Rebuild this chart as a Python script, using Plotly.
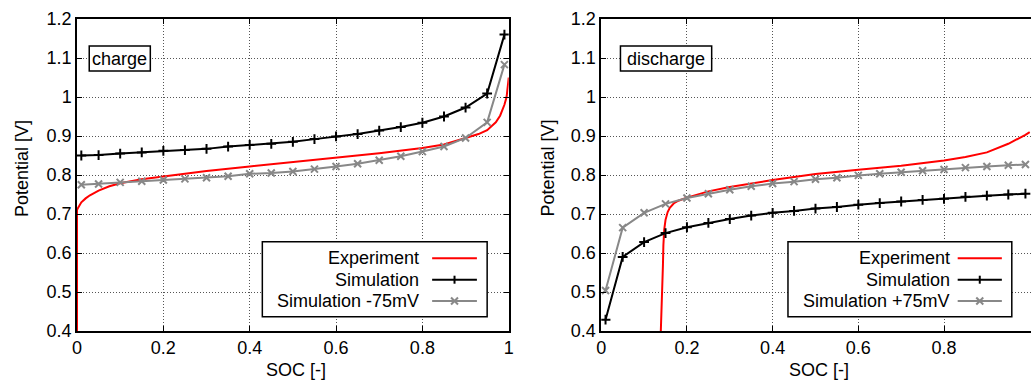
import plotly.graph_objects as go

# ---------------- data ----------------
soc_sim = [0.01, 0.05, 0.10, 0.15, 0.20, 0.25, 0.30, 0.35, 0.40, 0.45, 0.50,
           0.55, 0.60, 0.65, 0.70, 0.75, 0.80, 0.85, 0.90, 0.95, 0.99]

charge_sim = [0.850, 0.851, 0.855, 0.858, 0.862, 0.864, 0.867, 0.873, 0.877, 0.880, 0.885,
              0.892, 0.899, 0.905, 0.914, 0.923, 0.934, 0.950, 0.973, 1.009, 1.160]
charge_sim_shift = [0.775, 0.777, 0.781, 0.784, 0.787, 0.790, 0.793, 0.797, 0.803, 0.805, 0.809,
                    0.815, 0.822, 0.829, 0.838, 0.848, 0.860, 0.873, 0.895, 0.935, 1.083]

charge_exp_soc = [0.0, 0.0, 0.002, 0.005, 0.01, 0.02, 0.03, 0.05, 0.075, 0.10, 0.15, 0.20,
                  0.30, 0.40, 0.50, 0.60, 0.70, 0.80, 0.85, 0.90, 0.93, 0.95, 0.96, 0.97,
                  0.98, 0.99, 0.995, 1.0]
charge_exp_v = [0.40, 0.71, 0.715, 0.722, 0.730, 0.740, 0.748, 0.760, 0.771, 0.779, 0.789, 0.796,
                0.810, 0.822, 0.833, 0.844, 0.856, 0.869, 0.878, 0.895, 0.905, 0.915, 0.925, 0.935,
                0.952, 0.980, 1.000, 1.050]

discharge_sim = [0.429, 0.590, 0.628, 0.651, 0.666, 0.677, 0.687, 0.696, 0.703, 0.708, 0.714,
                 0.718, 0.724, 0.728, 0.732, 0.736, 0.739, 0.744, 0.747, 0.750, 0.752]
discharge_sim_shift = [0.504, 0.665, 0.703, 0.726, 0.741, 0.752, 0.762, 0.771, 0.778, 0.783, 0.789,
                       0.793, 0.799, 0.803, 0.807, 0.811, 0.814, 0.819, 0.822, 0.825, 0.827]

discharge_exp_soc = [0.139, 0.141, 0.1425, 0.144, 0.145, 0.147, 0.150, 0.155, 0.160, 0.170, 0.180,
                     0.20, 0.25, 0.30, 0.40, 0.50, 0.60, 0.70, 0.80, 0.85, 0.90, 0.95, 0.99, 1.0]
discharge_exp_v = [0.40, 0.45, 0.50, 0.57, 0.62, 0.66, 0.685, 0.705, 0.716, 0.728, 0.734,
                   0.742, 0.758, 0.769, 0.787, 0.8025, 0.8136, 0.824, 0.837, 0.846, 0.858, 0.880,
                   0.903, 0.910]

x_ticks = [0, 0.2, 0.4, 0.6, 0.8, 1.0]
y_ticks = [0.4, 0.5, 0.6, 0.7, 0.8, 0.9, 1.0, 1.1, 1.2]
names_charge = ["Experiment", "Simulation", "Simulation -75mV"]
names_discharge = ["Experiment", "Simulation", "Simulation +75mV"]

# ---------------- style ----------------
W, H = 1036, 382
ML, MR, MT, MB = 77, 0, 19, 51
PW, PH = W - ML - MR, H - MT - MB
FONT = "Liberation Sans"
FS = 18
RED, BLACK, GRAY = "#ff0000", "#000000", "#888888"


def px(xp):
    return (xp - ML) / PW


def py(yp):
    return (H - MB - yp) / PH


fig = go.Figure()

def add_set(xa, ya, exp_x, exp_y, sim, shift, names):
    fig.add_trace(go.Scatter(x=exp_x, y=exp_y, mode="lines", name=names[0],
                             line=dict(color=RED, width=2), xaxis=xa, yaxis=ya))
    fig.add_trace(go.Scatter(x=soc_sim, y=shift, mode="lines+markers", name=names[2],
                             line=dict(color=GRAY, width=2),
                             marker=dict(symbol="x-thin-open", size=7,
                                         line=dict(color=GRAY, width=2)),
                             xaxis=xa, yaxis=ya))
    fig.add_trace(go.Scatter(x=soc_sim, y=sim, mode="lines+markers", name=names[1],
                             line=dict(color=BLACK, width=2),
                             marker=dict(symbol="cross-thin-open", size=7,
                                         line=dict(color=BLACK, width=2)),
                             xaxis=xa, yaxis=ya))

add_set("x", "y", charge_exp_soc, charge_exp_v, charge_sim, charge_sim_shift, names_charge)
add_set("x2", "y2", discharge_exp_soc, discharge_exp_v, discharge_sim, discharge_sim_shift,
        names_discharge)

grid = dict(showgrid=True, gridcolor="#555555", gridwidth=1, griddash="1px,2px",
            zeroline=False, showline=True, linecolor="black", linewidth=1.5,
            ticks="inside", ticklen=5, tickwidth=1, tickcolor="black",
            tickfont=dict(family=FONT, size=FS, color="black"))

fig.update_layout(
    width=W, height=H, margin=dict(l=ML, r=MR, t=MT, b=MB, pad=0),
    paper_bgcolor="white", plot_bgcolor="rgba(0,0,0,0)",
    showlegend=False,
    font=dict(family=FONT, size=FS, color="black"),
    xaxis=dict(domain=[0, px(511)], range=[0, 1], tickvals=x_ticks,
               ticktext=["0", "0.2", "0.4", "0.6", "0.8", "1"], mirror="ticks",
               anchor="y", **grid),
    yaxis=dict(domain=[0, 1], range=[0.4, 1.2], tickvals=y_ticks,
               ticktext=["0.4", "0.5", "0.6", "0.7", "0.8", "0.9", "1", "1.1", "1.2"],
               mirror="ticks", anchor="x", **grid),
    xaxis2=dict(domain=[px(604), 1], range=[0, 1.003], tickvals=x_ticks[:-1],
                ticktext=["0", "0.2", "0.4", "0.6", "0.8"], mirror="ticks",
                anchor="y2", **grid),
    yaxis2=dict(domain=[0, 1], range=[0.4, 1.2], tickvals=y_ticks,
                ticktext=["0.4", "0.5", "0.6", "0.7", "0.8", "0.9", "1", "1.1", "1.2"],
                mirror=False, anchor="x2", **grid),
)

shapes = []
annots = []

# axis titles
for xc, yc_center in [(21.7, 168), (550, 168)]:
    annots.append(dict(x=px(xc), y=py(yc_center), xref="paper", yref="paper",
                       text="Potential [V]", textangle=-90, showarrow=False,
                       font=dict(family=FONT, size=FS), xanchor="center", yanchor="middle"))
for xc in [297, 823]:
    annots.append(dict(x=px(xc), y=py(370), xref="paper", yref="paper",
                       text="SOC [-]", showarrow=False,
                       font=dict(family=FONT, size=FS), xanchor="center", yanchor="middle"))

# labelled boxes
for x0, x1, label in [(89.3, 150.7, "charge"), (623.3, 715, "discharge")]:
    shapes.append(dict(type="rect", xref="paper", yref="paper", x0=px(x0), x1=px(x1),
                       y0=py(71), y1=py(46), line=dict(color="black", width=1.5),
                       fillcolor="white", layer="above"))
    annots.append(dict(x=px((x0 + x1) / 2), y=py(58.5), xref="paper", yref="paper",
                       text=label, showarrow=False, font=dict(family=FONT, size=FS),
                       xanchor="center", yanchor="middle"))

# legends
rows = [258.3, 279.7, 301.0]
for bx0, bx1, txr, s0, s1, names in [(263.3, 489.3, 423.3, 434, 479, names_charge),
                                     (791.7, 1016.7, 956.7, 962.3, 1006.7, names_discharge)]:
    shapes.append(dict(type="rect", xref="paper", yref="paper", x0=px(bx0), x1=px(bx1),
                       y0=py(316.7), y1=py(241.7), line=dict(color="black", width=1.5),
                       fillcolor="white", layer="above"))
    cols = [RED, BLACK, GRAY]
    for i, (ry, name) in enumerate(zip(rows, names)):
        annots.append(dict(x=px(txr), y=py(ry), xref="paper", yref="paper", text=name,
                           showarrow=False, font=dict(family=FONT, size=FS),
                           xanchor="right", yanchor="middle"))
        shapes.append(dict(type="line", xref="paper", yref="paper", x0=px(s0), x1=px(s1),
                           y0=py(ry), y1=py(ry), line=dict(color=cols[i], width=2),
                           layer="above"))
        cx = (s0 + s1) / 2
        if i == 1:
            shapes.append(dict(type="line", xref="paper", yref="paper", x0=px(cx), x1=px(cx),
                               y0=py(ry - 4), y1=py(ry + 4),
                               line=dict(color=BLACK, width=2), layer="above"))
        elif i == 2:
            for dy in (-3.5, 3.5):
                shapes.append(dict(type="line", xref="paper", yref="paper",
                                   x0=px(cx - 3.5), x1=px(cx + 3.5),
                                   y0=py(ry - dy), y1=py(ry + dy),
                                   line=dict(color=GRAY, width=2), layer="above"))

fig.update_layout(shapes=shapes, annotations=annots)
fig.write_html("out.html")
